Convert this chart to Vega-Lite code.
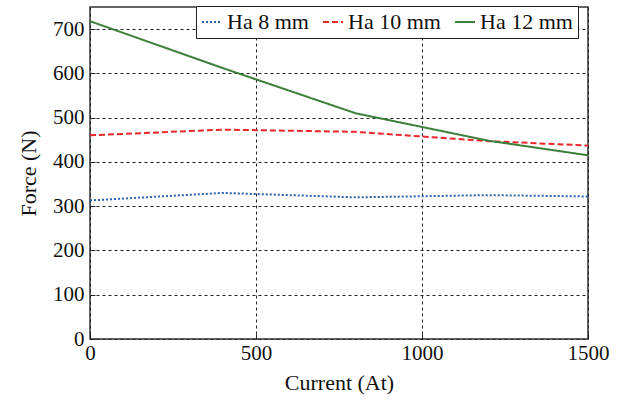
{
  "$schema": "https://vega.github.io/schema/vega-lite/v6.json",
  "width": 498,
  "height": 332,
  "autosize": "none",
  "padding": {"left": 90, "top": 7, "right": 37, "bottom": 62},
  "config": {
    "font": "Liberation Serif",
    "view": {"stroke": "#333", "strokeWidth": 1.5}
  },
  "data": {
    "values": [
      {"current": 0, "force": 313, "series": "Ha 8 mm"},
      {"current": 400, "force": 330, "series": "Ha 8 mm"},
      {"current": 800, "force": 320, "series": "Ha 8 mm"},
      {"current": 1200, "force": 325, "series": "Ha 8 mm"},
      {"current": 1500, "force": 322, "series": "Ha 8 mm"},
      {"current": 0, "force": 460, "series": "Ha 10 mm"},
      {"current": 400, "force": 473, "series": "Ha 10 mm"},
      {"current": 800, "force": 468, "series": "Ha 10 mm"},
      {"current": 1200, "force": 447, "series": "Ha 10 mm"},
      {"current": 1500, "force": 437, "series": "Ha 10 mm"},
      {"current": 0, "force": 718, "series": "Ha 12 mm"},
      {"current": 400, "force": 612, "series": "Ha 12 mm"},
      {"current": 800, "force": 510, "series": "Ha 12 mm"},
      {"current": 1200, "force": 448, "series": "Ha 12 mm"},
      {"current": 1500, "force": 415, "series": "Ha 12 mm"}
    ]
  },
  "mark": {"type": "line", "strokeWidth": 2},
  "encoding": {
    "x": {
      "field": "current",
      "type": "quantitative",
      "title": "Current (At)",
      "scale": {"domain": [0, 1500], "nice": false},
      "axis": {
        "values": [0, 500, 1000, 1500],
        "format": "d",
        "titlePadding": 9,
        "labelFont": "Liberation Serif",
        "titleFont": "Liberation Serif",
        "labelFontSize": 21,
        "titleFontSize": 22,
        "titleFontWeight": "normal",
        "labelColor": "#111",
        "titleColor": "#111",
        "gridColor": "#222",
        "gridDash": [3, 3],
        "gridWidth": 1,
        "gridOpacity": 1,
        "domain": false,
        "tickColor": "#222",
        "tickSize": -5,
        "labelPadding": 8,
        "labelFlush": false
      }
    },
    "y": {
      "field": "force",
      "type": "quantitative",
      "title": "Force (N)",
      "scale": {"domain": [0, 750], "nice": false},
      "axis": {
        "values": [0, 100, 200, 300, 400, 500, 600, 700],
        "format": "d",
        "titlePadding": 12,
        "labelFont": "Liberation Serif",
        "titleFont": "Liberation Serif",
        "labelFontSize": 21,
        "titleFontSize": 22,
        "titleFontWeight": "normal",
        "labelColor": "#111",
        "titleColor": "#111",
        "gridColor": "#222",
        "gridDash": [3, 3],
        "gridWidth": 1,
        "gridOpacity": 1,
        "domain": false,
        "tickColor": "#222",
        "tickSize": -5,
        "labelPadding": 11,
        "labelFlush": false
      }
    },
    "color": {
      "field": "series",
      "type": "nominal",
      "scale": {"domain": ["Ha 8 mm", "Ha 10 mm", "Ha 12 mm"], "range": ["#2b5fb0", "#e8262c", "#3b7f3b"]},
      "legend": {
        "title": null,
        "orient": "none",
        "legendX": 106,
        "legendY": -1,
        "direction": "horizontal",
        "symbolType": "stroke",
        "symbolSize": 400,
        "symbolStrokeWidth": 2,
        "strokeColor": "#222",
        "fillColor": "white",
        "padding": 5,
        "columnPadding": 10,
        "labelOffset": 4,
        "labelFont": "Liberation Serif",
        "labelFontSize": 22,
        "labelColor": "#111"
      }
    },
    "strokeDash": {
      "field": "series",
      "type": "nominal",
      "scale": {"domain": ["Ha 8 mm", "Ha 10 mm", "Ha 12 mm"], "range": [[2, 2], [6, 3], [1, 0]]},
      "legend": null
    }
  }
}
